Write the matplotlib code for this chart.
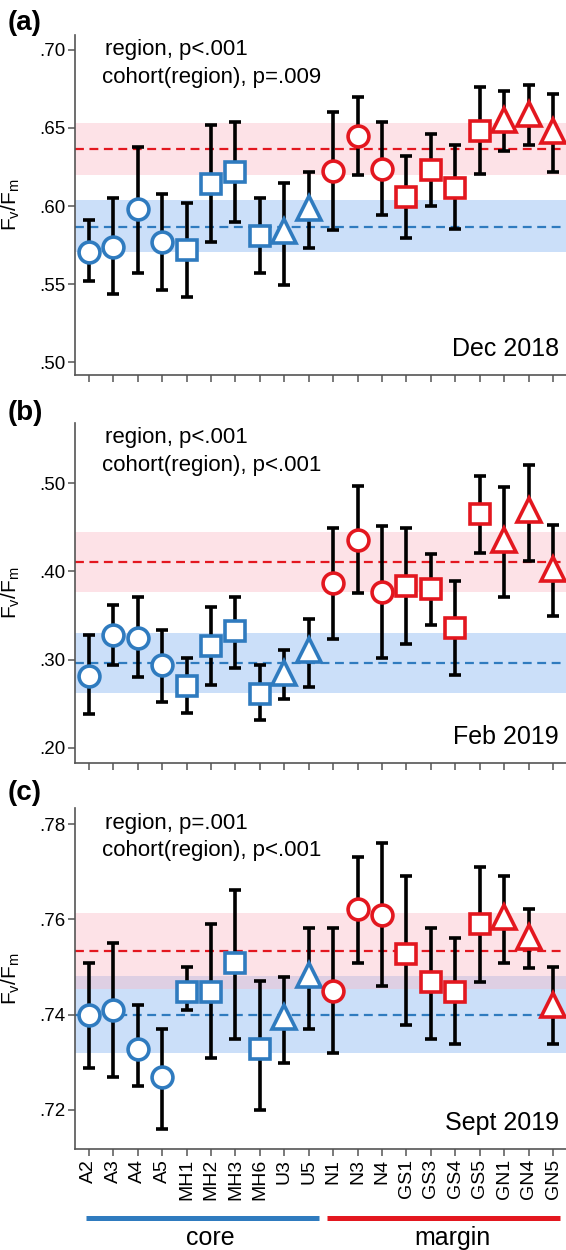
import numpy as np
import matplotlib
matplotlib.use("Agg")
import matplotlib.pyplot as plt
import matplotlib.transforms as mtransforms

plt.rcParams['font.family'] = ['Liberation Sans', 'DejaVu Sans']
plt.rcParams['mathtext.fontset'] = 'custom'
plt.rcParams['mathtext.rm'] = 'Liberation Sans'
plt.rcParams['mathtext.it'] = 'Liberation Sans'

# cohorts (x axis)
cohorts = ["A2", "A3", "A4", "A5", "MH1", "MH2", "MH3", "MH6", "U3", "U5",
           "N1", "N3", "N4", "GS1", "GS3", "GS4", "GS5", "GN1", "GN4", "GN5"]
markers = ["o", "o", "o", "o", "s", "s", "s", "s", "^", "^",
           "o", "o", "o", "s", "s", "s", "s", "^", "^", "^"]
region = ["core"] * 10 + ["margin"] * 10

# (a) Dec 2018
mean_a = [0.5705, 0.5738, 0.598, 0.577, 0.5718, 0.6138, 0.622, 0.5806, 0.584, 0.599,
          0.6226, 0.645, 0.624, 0.6058, 0.623, 0.6118, 0.648, 0.655, 0.659, 0.648]
hi_a = [0.591, 0.605, 0.638, 0.608, 0.602, 0.652, 0.654, 0.605, 0.615, 0.622,
        0.660, 0.670, 0.654, 0.632, 0.646, 0.639, 0.676, 0.6735, 0.6774, 0.672]
lo_a = [0.552, 0.5437, 0.557, 0.546, 0.5415, 0.577, 0.5897, 0.557, 0.5495, 0.573,
        0.5845, 0.620, 0.594, 0.5796, 0.600, 0.5854, 0.6204, 0.6355, 0.639, 0.6215]

# (b) Feb 2019
mean_b = [0.282, 0.3274, 0.3248, 0.2936, 0.270, 0.316, 0.332, 0.261, 0.285, 0.311,
          0.3872, 0.436, 0.3767, 0.3838, 0.3797, 0.3357, 0.465, 0.435, 0.469, 0.403]
hi_b = [0.3274, 0.362, 0.371, 0.334, 0.302, 0.360, 0.371, 0.2936, 0.3105, 0.346,
        0.449, 0.497, 0.4515, 0.449, 0.420, 0.3895, 0.508, 0.495, 0.520, 0.452]
lo_b = [0.238, 0.2936, 0.280, 0.2526, 0.240, 0.271, 0.291, 0.2316, 0.255, 0.2688,
        0.3237, 0.3756, 0.302, 0.318, 0.3387, 0.2827, 0.421, 0.371, 0.4117, 0.349]

# (c) Sept 2019
mean_c = [0.740, 0.7409, 0.7329, 0.7269, 0.7448, 0.7448, 0.7509, 0.7329, 0.7395, 0.7483,
          0.745, 0.7621, 0.761, 0.7528, 0.7468, 0.7448, 0.7591, 0.7605, 0.7563, 0.742]
hi_c = [0.7509, 0.7551, 0.742, 0.737, 0.750, 0.7591, 0.7661, 0.747, 0.748, 0.7581,
        0.7581, 0.7731, 0.7761, 0.7691, 0.7581, 0.7561, 0.771, 0.7691, 0.7621, 0.750]
lo_c = [0.7289, 0.7269, 0.725, 0.7159, 0.7409, 0.7309, 0.7349, 0.7199, 0.7298, 0.737,
        0.7319, 0.7509, 0.746, 0.7379, 0.7349, 0.7339, 0.7469, 0.7509, 0.7498, 0.7339]

# region means and bands (low, mean, high)
core_band = [(0.5705, 0.5867, 0.6037), (0.2624, 0.2962, 0.330), (0.7320, 0.7400, 0.7481)]
margin_band = [(0.620, 0.6366, 0.653), (0.377, 0.4105, 0.4447), (0.7453, 0.7534, 0.7614)]

panels = ["(a)", "(b)", "(c)"]
months = ["Dec 2018", "Feb 2019", "Sept 2019"]
stats = [("region, p<.001", "cohort(region), p=.009"),
         ("region, p<.001", "cohort(region), p<.001"),
         ("region, p=.001", "cohort(region), p<.001")]
yticks = [[0.50, 0.55, 0.60, 0.65, 0.70], [0.20, 0.30, 0.40, 0.50], [0.72, 0.74, 0.76, 0.78]]
ylims = [(0.4917, 0.7096), (0.183, 0.568), (0.7118, 0.7834)]

blue = "#2f7bbf"
red = "#e3171f"
colors = [blue if r == "core" else red for r in region]

fig = plt.figure(figsize=(5.66, 12.5), dpi=100)
axes_pos = [[0.1325, 0.700, 0.8675, 0.272],
            [0.1325, 0.3896, 0.8675, 0.272],
            [0.1325, 0.0808, 0.8675, 0.2728]]
label_y = [1 - 23 / 1250, 1 - 413 / 1250, 1 - 793 / 1250]

data = [(mean_a, lo_a, hi_a), (mean_b, lo_b, hi_b), (mean_c, lo_c, hi_c)]
x = np.arange(len(cohorts))

for k in range(3):
    ax = fig.add_axes(axes_pos[k])
    mean, lo, hi = [np.array(d) for d in data[k]]

    # region bands and dashed means
    ax.axhspan(core_band[k][0], core_band[k][2], color="#a9cbf6", alpha=0.6, lw=0, zorder=0)
    ax.axhspan(margin_band[k][0], margin_band[k][2], color="#fbb8c4", alpha=0.4, lw=0, zorder=0)
    ax.axhline(core_band[k][1], color=blue, ls=(0, (4, 2.5)), lw=1.6, zorder=1)
    ax.axhline(margin_band[k][1], color=red, ls=(0, (4, 2.5)), lw=1.6, zorder=1)

    ax.errorbar(x, mean, yerr=[mean - lo, hi - mean], fmt="none", ecolor="black",
                elinewidth=2.6, capsize=4, capthick=2.6, zorder=2)
    for i in range(len(x)):
        ms = 17 if markers[i] == "^" else 15
        ax.plot(x[i], mean[i], marker=markers[i], ms=ms, mfc="white", mec=colors[i],
                mew=2.6, ls="none", zorder=3)

    ax.set_xlim(-0.57, 19.53)
    ax.set_ylim(*ylims[k])
    ax.set_yticks(yticks[k])
    ax.set_yticklabels(["." + f"{v:.2f}".split(".")[1] for v in yticks[k]], fontsize=13.5)
    ax.set_xticks(x)
    if k == 2:
        ax.set_xticklabels(cohorts, rotation=90, fontsize=14)
    else:
        ax.set_xticklabels([])

    for s in ["top", "right"]:
        ax.spines[s].set_visible(False)
    for s in ["left", "bottom"]:
        ax.spines[s].set_color("#555555")
        ax.spines[s].set_linewidth(1.2)
    ax.tick_params(axis="both", color="#555555", length=5, width=1.1, pad=2)

    ax.set_ylabel(r"F$_{\rm v}$/F$_{\rm m}$", fontsize=15)
    ax.yaxis.set_label_coords(-0.108, 0.5)

    ax.text(0.061, 0.956, stats[k][0], transform=ax.transAxes, fontsize=16,
            ha="left", va="center")
    ax.text(0.055, 0.876, stats[k][1], transform=ax.transAxes, fontsize=16,
            ha="left", va="center")
    ax.text(0.985, 0.04, months[k], transform=ax.transAxes, fontsize=18,
            ha="right", va="bottom")

    fig.text(8 / 566, label_y[k], panels[k], fontsize=20, fontweight="bold",
             ha="left", va="center")

    if k == 2:
        trans = mtransforms.blended_transform_factory(ax.transData, ax.transAxes)
        ax.plot([-0.12, 9.42], [-0.2023, -0.2023], color=blue, lw=3.6,
                transform=trans, clip_on=False, solid_capstyle="butt")
        ax.plot([9.75, 19.29], [-0.2023, -0.2023], color=red, lw=3.6,
                transform=trans, clip_on=False, solid_capstyle="butt")
        ax.text(4.95, -0.262, "core", transform=trans, fontsize=18, ha="center", va="center")
        ax.text(14.9, -0.262, "margin", transform=trans, fontsize=18, ha="center", va="center")

fig.savefig("out.png", dpi=100)
